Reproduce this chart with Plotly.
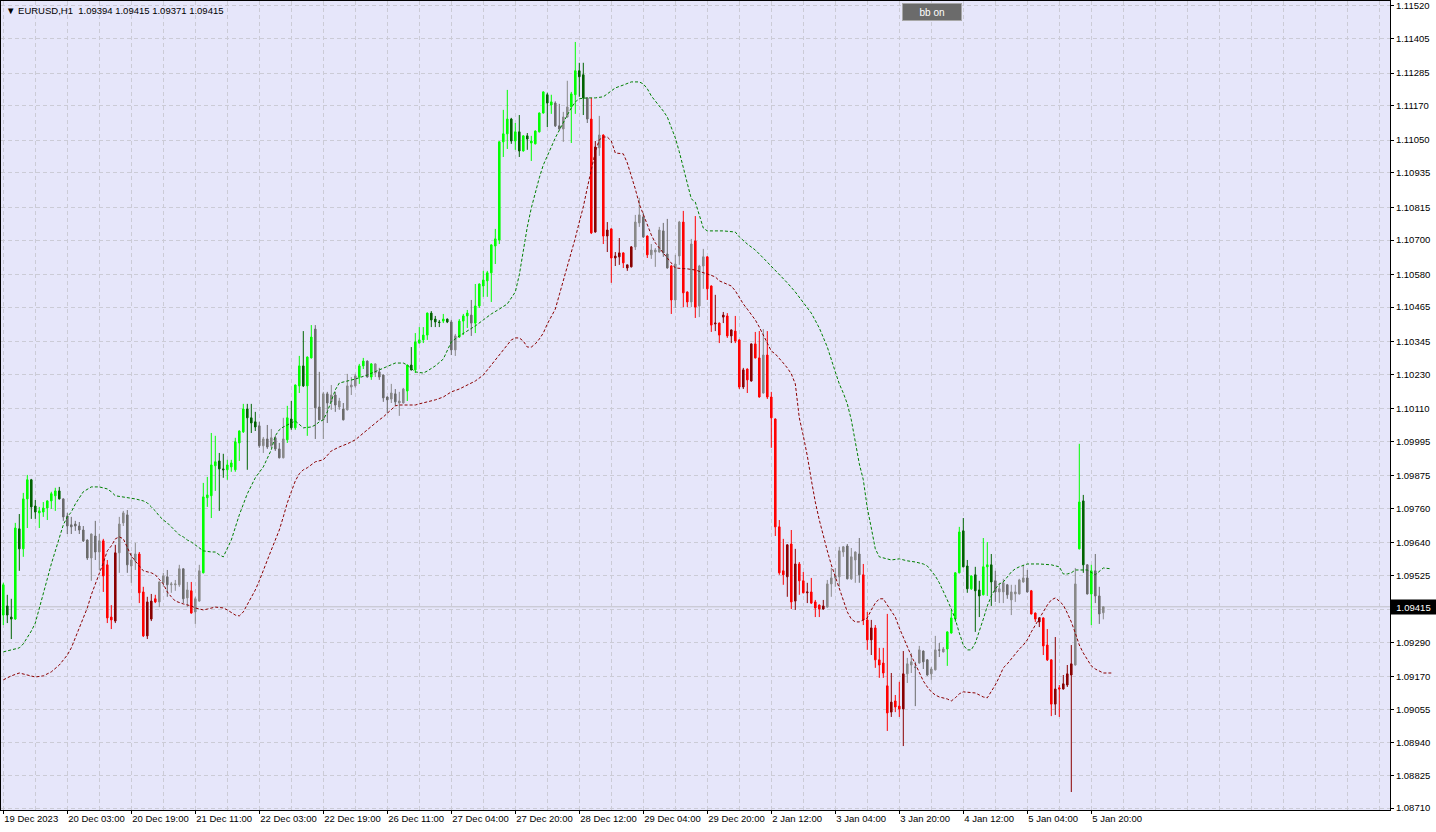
import plotly.graph_objects as go

# ---------------- data (EURUSD H1) ----------------
opens = [
    1.09386, 1.09418, 1.09379, 1.09372, 1.09688, 1.09618, 1.09793, 1.09860, 1.09768, 1.09744,
    1.09747, 1.09761, 1.09786, 1.09804, 1.09821, 1.09793, 1.09733, 1.09702, 1.09705, 1.09698,
    1.09684, 1.09649, 1.09586, 1.09663, 1.09607, 1.09646, 1.09562, 1.09379, 1.09365, 1.09604,
    1.09709, 1.09737, 1.09558, 1.09576, 1.09600, 1.09467, 1.09313, 1.09372, 1.09443, 1.09432,
    1.09499, 1.09520, 1.09492, 1.09492, 1.09492, 1.09548, 1.09446, 1.09471, 1.09397, 1.09435,
    1.09534, 1.09797, 1.09804, 1.09909, 1.09926, 1.09898, 1.09895, 1.09905, 1.09895, 1.09989,
    1.10028, 1.10108, 1.10077, 1.10063, 1.10049, 1.09979, 1.10003, 1.09979, 1.10007, 1.09968,
    1.09937, 1.10000, 1.10073, 1.10042, 1.10189, 1.10259, 1.10189, 1.10287, 1.10388, 1.10115,
    1.10070, 1.10161, 1.10133, 1.10157, 1.10115, 1.10108, 1.10105, 1.10185, 1.10189, 1.10220,
    1.10259, 1.10276, 1.10220, 1.10234, 1.10238, 1.10227, 1.10150, 1.10143, 1.10161, 1.10129,
    1.10129, 1.10171, 1.10262, 1.10245, 1.10339, 1.10350, 1.10367, 1.10444, 1.10423, 1.10413,
    1.10416, 1.10423, 1.10413, 1.10315, 1.10360, 1.10416, 1.10434, 1.10437, 1.10409, 1.10469,
    1.10539, 1.10557, 1.10585, 1.10679, 1.10700, 1.11044, 1.11072, 1.11124, 1.11047, 1.11079,
    1.11012, 1.11065, 1.11040, 1.11037, 1.11079, 1.11145, 1.11209, 1.11173, 1.11180, 1.11100,
    1.11089, 1.11131, 1.11166, 1.11209, 1.11293, 1.11279, 1.11198, 1.11124, 1.10728, 1.11023,
    1.11068, 1.10714, 1.10739, 1.10637, 1.10641, 1.10655, 1.10602, 1.10606, 1.10676, 1.10760,
    1.10781, 1.10714, 1.10648, 1.10658, 1.10658, 1.10732, 1.10651, 1.10609, 1.10490, 1.10644,
    1.10763, 1.10518, 1.10483, 1.10697, 1.10469, 1.10609, 1.10641, 1.10539, 1.10406, 1.10409,
    1.10430, 1.10434, 1.10364, 1.10381, 1.10350, 1.10185, 1.10248, 1.10206, 1.10336, 1.10287,
    1.10164, 1.10297, 1.10150, 1.10073, 1.09695, 1.09541, 1.09520, 1.09635, 1.09435, 1.09565,
    1.09506, 1.09464, 1.09467, 1.09432, 1.09421, 1.09407, 1.09414, 1.09495, 1.09516, 1.09520,
    1.09607, 1.09628, 1.09513, 1.09579, 1.09600, 1.09527, 1.09369, 1.09299, 1.09341, 1.09229,
    1.09218, 1.09138, 1.09046, 1.09085, 1.09067, 1.09057, 1.09180, 1.09211, 1.09204, 1.09218,
    1.09260, 1.09229, 1.09180, 1.09194, 1.09264, 1.09257, 1.09267, 1.09323, 1.09372, 1.09534,
    1.09681, 1.09558, 1.09478, 1.09527, 1.09474, 1.09457, 1.09555, 1.09562, 1.09506, 1.09467,
    1.09467, 1.09492, 1.09439, 1.09460, 1.09460, 1.09502, 1.09516, 1.09471, 1.09393, 1.09362,
    1.09376, 1.09281, 1.09229, 1.09074, 1.09131, 1.09127, 1.09141, 1.09176, 1.09211, 1.09618,
    1.09786, 1.09562, 1.09460, 1.09541, 1.09453, 1.09394,
]
highs = [
    1.09499, 1.09457, 1.09443, 1.09709, 1.09740, 1.09814, 1.09877, 1.09863, 1.09789, 1.09765,
    1.09782, 1.09788, 1.09818, 1.09832, 1.09835, 1.09795, 1.09744, 1.09730, 1.09716, 1.09712,
    1.09698, 1.09651, 1.09672, 1.09716, 1.09670, 1.09653, 1.09579, 1.09421, 1.09632, 1.09730,
    1.09751, 1.09754, 1.09604, 1.09639, 1.09607, 1.09485, 1.09450, 1.09460, 1.09457, 1.09504,
    1.09534, 1.09544, 1.09502, 1.09509, 1.09562, 1.09550, 1.09502, 1.09502, 1.09450, 1.09562,
    1.09849, 1.09870, 1.10024, 1.10014, 1.09954, 1.09951, 1.09930, 1.09930, 1.10007, 1.10033,
    1.10126, 1.10126, 1.10126, 1.10098, 1.10063, 1.10010, 1.10052, 1.10038, 1.10014, 1.09989,
    1.10077, 1.10119, 1.10136, 1.10194, 1.10294, 1.10381, 1.10292, 1.10402, 1.10402, 1.10238,
    1.10168, 1.10168, 1.10192, 1.10168, 1.10147, 1.10129, 1.10231, 1.10220, 1.10231, 1.10266,
    1.10287, 1.10278, 1.10269, 1.10268, 1.10252, 1.10229, 1.10152, 1.10196, 1.10178, 1.10168,
    1.10182, 1.10263, 1.10325, 1.10374, 1.10395, 1.10395, 1.10446, 1.10451, 1.10434, 1.10420,
    1.10441, 1.10425, 1.10420, 1.10371, 1.10423, 1.10441, 1.10455, 1.10490, 1.10546, 1.10548,
    1.10592, 1.10592, 1.10685, 1.10739, 1.11046, 1.11156, 1.11226, 1.11128, 1.11110, 1.11138,
    1.11067, 1.11075, 1.11065, 1.11084, 1.11147, 1.11221, 1.11216, 1.11209, 1.11186, 1.11177,
    1.11149, 1.11258, 1.11219, 1.11394, 1.11321, 1.11321, 1.11200, 1.11198, 1.11047, 1.11135,
    1.11070, 1.10763, 1.10741, 1.10658, 1.10707, 1.10657, 1.10613, 1.10679, 1.10788, 1.10848,
    1.10795, 1.10716, 1.10686, 1.10672, 1.10746, 1.10760, 1.10774, 1.10613, 1.10648, 1.10767,
    1.10802, 1.10520, 1.10704, 1.10784, 1.10613, 1.10669, 1.10643, 1.10541, 1.10508, 1.10411,
    1.10448, 1.10444, 1.10387, 1.10434, 1.10352, 1.10252, 1.10250, 1.10338, 1.10378, 1.10381,
    1.10388, 1.10381, 1.10168, 1.10075, 1.09719, 1.09653, 1.09634, 1.09684, 1.09618, 1.09572,
    1.09537, 1.09499, 1.09516, 1.09439, 1.09423, 1.09439, 1.09509, 1.09551, 1.09551, 1.09625,
    1.09628, 1.09635, 1.09621, 1.09609, 1.09656, 1.09565, 1.09397, 1.09369, 1.09351, 1.09271,
    1.09271, 1.09390, 1.09183, 1.09106, 1.09152, 1.09260, 1.09236, 1.09253, 1.09222, 1.09278,
    1.09262, 1.09232, 1.09204, 1.09313, 1.09288, 1.09274, 1.09329, 1.09404, 1.09536, 1.09695,
    1.09726, 1.09579, 1.09525, 1.09555, 1.09506, 1.09656, 1.09642, 1.09600, 1.09541, 1.09499,
    1.09513, 1.09495, 1.09492, 1.09492, 1.09513, 1.09562, 1.09544, 1.09474, 1.09395, 1.09379,
    1.09378, 1.09337, 1.09231, 1.09309, 1.09141, 1.09176, 1.09211, 1.09281, 1.09551, 1.09986,
    1.09807, 1.09564, 1.09562, 1.09600, 1.09485, 1.09415,
]
lows = [
    1.09351, 1.09358, 1.09302, 1.09369, 1.09541, 1.09590, 1.09691, 1.09723, 1.09723, 1.09691,
    1.09730, 1.09719, 1.09758, 1.09751, 1.09791, 1.09716, 1.09670, 1.09670, 1.09681, 1.09670,
    1.09642, 1.09579, 1.09506, 1.09579, 1.09544, 1.09467, 1.09358, 1.09337, 1.09358, 1.09534,
    1.09698, 1.09534, 1.09499, 1.09544, 1.09428, 1.09309, 1.09302, 1.09365, 1.09428, 1.09414,
    1.09485, 1.09450, 1.09464, 1.09471, 1.09485, 1.09428, 1.09414, 1.09391, 1.09355, 1.09433,
    1.09532, 1.09765, 1.09726, 1.09821, 1.09751, 1.09867, 1.09860, 1.09888, 1.09888, 1.09926,
    1.10024, 1.09895, 1.10024, 1.10031, 1.09972, 1.09954, 1.09968, 1.09972, 1.09961, 1.09935,
    1.09935, 1.09989, 1.10035, 1.10035, 1.10164, 1.10185, 1.10014, 1.10285, 1.10003, 1.10068,
    1.10003, 1.10059, 1.10105, 1.10098, 1.10105, 1.10068, 1.10103, 1.10157, 1.10183, 1.10196,
    1.10248, 1.10218, 1.10210, 1.10220, 1.10210, 1.10133, 1.10094, 1.10129, 1.10119, 1.10084,
    1.10127, 1.10136, 1.10243, 1.10234, 1.10337, 1.10339, 1.10350, 1.10395, 1.10395, 1.10395,
    1.10409, 1.10409, 1.10297, 1.10294, 1.10357, 1.10367, 1.10392, 1.10364, 1.10374, 1.10462,
    1.10501, 1.10501, 1.10483, 1.10616, 1.10686, 1.10991, 1.11019, 1.11037, 1.11016, 1.10991,
    1.11010, 1.11016, 1.10977, 1.11035, 1.11077, 1.11143, 1.11096, 1.11142, 1.11096, 1.11086,
    1.11044, 1.11129, 1.11040, 1.11142, 1.11202, 1.11138, 1.11110, 1.10721, 1.10726, 1.10995,
    1.10686, 1.10658, 1.10550, 1.10609, 1.10613, 1.10602, 1.10592, 1.10604, 1.10665, 1.10746,
    1.10707, 1.10637, 1.10634, 1.10606, 1.10656, 1.10641, 1.10600, 1.10441, 1.10462, 1.10613,
    1.10465, 1.10465, 1.10465, 1.10427, 1.10430, 1.10529, 1.10490, 1.10378, 1.10381, 1.10339,
    1.10409, 1.10357, 1.10339, 1.10339, 1.10178, 1.10178, 1.10164, 1.10204, 1.10285, 1.10148,
    1.10162, 1.10143, 1.09972, 1.09663, 1.09527, 1.09492, 1.09450, 1.09407, 1.09404, 1.09457,
    1.09462, 1.09428, 1.09425, 1.09379, 1.09379, 1.09405, 1.09412, 1.09450, 1.09485, 1.09485,
    1.09590, 1.09511, 1.09509, 1.09499, 1.09499, 1.09351, 1.09264, 1.09246, 1.09201, 1.09166,
    1.09166, 1.08980, 1.09029, 1.09046, 1.09029, 1.08927, 1.09148, 1.09183, 1.09067, 1.09216,
    1.09197, 1.09173, 1.09159, 1.09192, 1.09239, 1.09255, 1.09208, 1.09321, 1.09362, 1.09532,
    1.09553, 1.09464, 1.09474, 1.09327, 1.09379, 1.09455, 1.09453, 1.09418, 1.09432, 1.09428,
    1.09428, 1.09443, 1.09386, 1.09432, 1.09458, 1.09499, 1.09465, 1.09388, 1.09362, 1.09344,
    1.09246, 1.09225, 1.09032, 1.09036, 1.09029, 1.09125, 1.09134, 1.08766, 1.09209, 1.09616,
    1.09534, 1.09458, 1.09351, 1.09428, 1.09355, 1.09371,
]
closes = [
    1.09492, 1.09386, 1.09372, 1.09691, 1.09618, 1.09793, 1.09860, 1.09765, 1.09747, 1.09751,
    1.09761, 1.09786, 1.09811, 1.09821, 1.09793, 1.09730, 1.09698, 1.09695, 1.09698, 1.09684,
    1.09646, 1.09586, 1.09670, 1.09607, 1.09646, 1.09523, 1.09376, 1.09369, 1.09604, 1.09705,
    1.09744, 1.09562, 1.09579, 1.09600, 1.09464, 1.09313, 1.09432, 1.09435, 1.09432, 1.09502,
    1.09523, 1.09492, 1.09495, 1.09495, 1.09548, 1.09443, 1.09474, 1.09393, 1.09443, 1.09541,
    1.09800, 1.09807, 1.09912, 1.09923, 1.09898, 1.09895, 1.09912, 1.09919, 1.09993, 1.10031,
    1.10108, 1.10077, 1.10059, 1.10045, 1.09979, 1.10003, 1.09975, 1.10007, 1.09968, 1.09937,
    1.10003, 1.10077, 1.10042, 1.10192, 1.10259, 1.10189, 1.10290, 1.10360, 1.10112, 1.10070,
    1.10161, 1.10129, 1.10157, 1.10122, 1.10136, 1.10070, 1.10189, 1.10192, 1.10224, 1.10259,
    1.10276, 1.10220, 1.10266, 1.10266, 1.10220, 1.10147, 1.10140, 1.10164, 1.10133, 1.10136,
    1.10178, 1.10262, 1.10245, 1.10343, 1.10350, 1.10367, 1.10444, 1.10420, 1.10413, 1.10411,
    1.10423, 1.10413, 1.10315, 1.10364, 1.10416, 1.10434, 1.10444, 1.10409, 1.10469, 1.10546,
    1.10560, 1.10585, 1.10683, 1.10704, 1.11044, 1.11072, 1.11124, 1.11047, 1.11079, 1.11012,
    1.11065, 1.11054, 1.11047, 1.11082, 1.11145, 1.11219, 1.11180, 1.11184, 1.11100, 1.11089,
    1.11131, 1.11166, 1.11212, 1.11293, 1.11272, 1.11198, 1.11124, 1.10725, 1.11026, 1.11068,
    1.10714, 1.10735, 1.10637, 1.10644, 1.10655, 1.10620, 1.10613, 1.10676, 1.10763, 1.10788,
    1.10711, 1.10648, 1.10665, 1.10665, 1.10735, 1.10655, 1.10602, 1.10490, 1.10616, 1.10763,
    1.10515, 1.10483, 1.10686, 1.10465, 1.10609, 1.10641, 1.10529, 1.10402, 1.10409, 1.10367,
    1.10437, 1.10364, 1.10385, 1.10346, 1.10185, 1.10245, 1.10210, 1.10336, 1.10287, 1.10150,
    1.10297, 1.10150, 1.10077, 1.09695, 1.09534, 1.09527, 1.09632, 1.09432, 1.09565, 1.09506,
    1.09464, 1.09467, 1.09428, 1.09411, 1.09407, 1.09418, 1.09495, 1.09516, 1.09523, 1.09611,
    1.09625, 1.09513, 1.09590, 1.09607, 1.09527, 1.09369, 1.09299, 1.09341, 1.09229, 1.09211,
    1.09183, 1.09043, 1.09081, 1.09064, 1.09057, 1.09180, 1.09215, 1.09222, 1.09203, 1.09264,
    1.09222, 1.09176, 1.09197, 1.09264, 1.09263, 1.09267, 1.09327, 1.09376, 1.09534, 1.09677,
    1.09555, 1.09478, 1.09523, 1.09471, 1.09453, 1.09555, 1.09562, 1.09502, 1.09467, 1.09478,
    1.09499, 1.09457, 1.09467, 1.09467, 1.09509, 1.09516, 1.09467, 1.09390, 1.09372, 1.09376,
    1.09278, 1.09229, 1.09074, 1.09127, 1.09127, 1.09145, 1.09180, 1.09215, 1.09495, 1.09782,
    1.09562, 1.09460, 1.09541, 1.09453, 1.09390, 1.09415,
]
# candle colouring state: U = up trend, D = down trend, F = flat
trend = list(
    "UUUUUUUUUUUUUUU"        # 0-14
    "FFFFFFFFFF"             # 15-24
    "DDDD"                   # 25-28
    "FFFFF"                  # 29-33
    "DDDDD"                  # 34-38
    "FFFFFFFF"               # 39-46
    "D"                      # 47
    "FF"                     # 48-49
    "UUUUUUUUUUUUUU"         # 50-63
    "FFFFFFF"                # 64-70
    "UUUUUUU"                # 71-77
    "FFFFFFFFFFF"            # 78-88
    "UU" "F" "U"             # 89-92
    "FFFFFFFF"               # 93-100
    "UUUUUUUUUUU"            # 101-111
    "FF" "UUU" "F"           # 112-117
    "UUUUUUUUUUUUUUUUUUUU"   # 118-137
    "FFFF" "UUUU" "F"        # 138-146
    "DD" "F" "DDDDDDDD"      # 147-157
    "FFF" "D" "FFFFF" "D"    # 158-167
    "FF" "DD" "F" "D" "FF"   # 168-175
    "DDDDDDDDDDDDDD"         # 176-189
    "F"                      # 190
    "DDDDDDDDDDDDDDD"        # 191-205
    "FFFFFFFFF"              # 206-214
    "DDDDDDDDDDD"            # 215-225
    "FFFFFFFFFF"             # 226-235
    "UUUUUUUUUUUU"           # 236-247
    "FFFFFFFFF"              # 248-256
    "DDDDDDDDDDD"            # 257-267
    "F" "UU" "F" "U" "FFF"   # 268-275
)

time_labels = ["19 Dec 2023", "20 Dec 03:00", "20 Dec 19:00", "21 Dec 11:00",
               "22 Dec 03:00", "22 Dec 19:00", "26 Dec 11:00", "27 Dec 04:00",
               "27 Dec 20:00", "28 Dec 12:00", "29 Dec 04:00", "29 Dec 20:00",
               "2 Jan 12:00", "3 Jan 04:00", "3 Jan 20:00", "4 Jan 12:00",
               "5 Jan 04:00", "5 Jan 20:00"]
price_labels = ["1.11520", "1.11405", "1.11285", "1.11170", "1.11050", "1.10935",
                "1.10815", "1.10700", "1.10580", "1.10465", "1.10345", "1.10230",
                "1.10110", "1.09995", "1.09875", "1.09760", "1.09640", "1.09525",
                "1.09405", "1.09290", "1.09170", "1.09055", "1.08940", "1.08825",
                "1.08710"]

upper_band = [
    (0, 1.09257), (2, 1.09264), (4, 1.09271), (5, 1.09285), (6, 1.09306), (7, 1.09330),
    (8, 1.09358), (9, 1.09407), (10, 1.09464), (11, 1.09513), (12, 1.09565), (13, 1.09611),
    (14, 1.09649), (15, 1.09702), (16, 1.09730), (17, 1.09747), (18, 1.09775), (19, 1.09797),
    (20, 1.09818), (22, 1.09835), (24, 1.09835), (26, 1.09828), (27, 1.09818), (28, 1.09804),
    (30, 1.09800), (32, 1.09797), (33, 1.09793), (35, 1.09786), (36, 1.09779), (37, 1.09765),
    (38, 1.09751), (39, 1.09733), (40, 1.09719), (41, 1.09709), (42, 1.09695), (43, 1.09684),
    (44, 1.09667), (45, 1.09660), (46, 1.09649), (47, 1.09642), (48, 1.09632), (49, 1.09621),
    (50, 1.09611), (52, 1.09607), (53, 1.09607), (54, 1.09597), (55, 1.09590), (57, 1.09649),
    (59, 1.09737), (61, 1.09811), (63, 1.09867), (65, 1.09905), (66, 1.09937), (67, 1.09965),
    (68, 1.10014), (69, 1.10035), (70, 1.10045), (72, 1.10059), (73, 1.10066), (75, 1.10042),
    (77, 1.10045), (78, 1.10052), (79, 1.10063), (80, 1.10070), (81, 1.10098), (82, 1.10136),
    (83, 1.10175), (84, 1.10199), (86, 1.10206), (88, 1.10213), (91, 1.10227), (94, 1.10245),
    (96, 1.10259), (98, 1.10269), (100, 1.10269), (101, 1.10262), (103, 1.10238), (105, 1.10234),
    (106, 1.10241), (108, 1.10259), (110, 1.10283), (111, 1.10315), (112, 1.10343), (114, 1.10364),
    (116, 1.10381), (118, 1.10399), (120, 1.10420), (122, 1.10441), (124, 1.10458), (126, 1.10476),
    (127, 1.10497), (128, 1.10518), (129, 1.10578), (130, 1.10665), (131, 1.10746), (132, 1.10812),
    (133, 1.10869), (134, 1.10918), (135, 1.10963), (136, 1.10998), (137, 1.11026), (138, 1.11058),
    (139, 1.11086), (140, 1.11114), (141, 1.11138), (142, 1.11163), (143, 1.11184), (144, 1.11195),
    (146, 1.11198), (148, 1.11198), (150, 1.11202), (151, 1.11212), (153, 1.11233), (155, 1.11243),
    (157, 1.11254), (159, 1.11254), (160, 1.11247), (161, 1.11230), (162, 1.11205), (163, 1.11187),
    (164, 1.11170), (165, 1.11152), (166, 1.11131), (167, 1.11093), (168, 1.11058), (169, 1.11009),
    (170, 1.10953), (171, 1.10900), (172, 1.10844), (173, 1.10833), (174, 1.10788), (175, 1.10742),
    (176, 1.10732), (180, 1.10732), (183, 1.10728), (184, 1.10711), (186, 1.10686), (188, 1.10665),
    (190, 1.10637), (192, 1.10609), (194, 1.10581), (196, 1.10550), (198, 1.10518), (200, 1.10483),
    (202, 1.10444), (204, 1.10392), (206, 1.10325), (208, 1.10238), (209, 1.10196), (210, 1.10164),
    (211, 1.10126), (212, 1.10070), (213, 1.09989), (214, 1.09916), (215, 1.09860), (216, 1.09761),
    (217, 1.09691), (218, 1.09618), (219, 1.09590), (220, 1.09586), (222, 1.09579), (224, 1.09583),
    (226, 1.09576), (228, 1.09572), (230, 1.09565), (231, 1.09558), (232, 1.09541), (233, 1.09523),
    (234, 1.09499), (235, 1.09471), (236, 1.09439), (237, 1.09407), (238, 1.09372), (239, 1.09323),
    (240, 1.09281), (241, 1.09264), (242, 1.09264), (243, 1.09288), (244, 1.09327), (245, 1.09372),
    (246, 1.09418), (247, 1.09453), (248, 1.09478), (249, 1.09495), (250, 1.09502), (251, 1.09520),
    (252, 1.09537), (253, 1.09548), (254, 1.09555), (256, 1.09565), (259, 1.09565), (262, 1.09562),
    (264, 1.09555), (265, 1.09530), (266, 1.09530), (267, 1.09534), (268, 1.09544), (271, 1.09544),
    (273, 1.09527), (275, 1.09551), (277, 1.09548),
]
lower_band = [
    (0, 1.09159), (2, 1.09173), (4, 1.09183), (6, 1.09176), (8, 1.09169), (10, 1.09173),
    (12, 1.09187), (14, 1.09211), (16, 1.09246), (17, 1.09271), (18, 1.09306), (19, 1.09341),
    (20, 1.09379), (21, 1.09411), (22, 1.09457), (23, 1.09495), (24, 1.09527), (25, 1.09569),
    (26, 1.09611), (27, 1.09628), (28, 1.09653), (29, 1.09660), (30, 1.09653), (31, 1.09621),
    (32, 1.09593), (34, 1.09558), (35, 1.09541), (37, 1.09534), (38, 1.09527), (40, 1.09495),
    (41, 1.09467), (42, 1.09450), (43, 1.09435), (45, 1.09425), (47, 1.09418), (48, 1.09411),
    (50, 1.09404), (51, 1.09407), (53, 1.09414), (55, 1.09411), (56, 1.09404), (58, 1.09386),
    (59, 1.09383), (60, 1.09397), (61, 1.09421), (62, 1.09446), (63, 1.09474), (64, 1.09506),
    (65, 1.09544), (66, 1.09579), (67, 1.09614), (68, 1.09649), (69, 1.09684), (70, 1.09730),
    (71, 1.09779), (72, 1.09818), (73, 1.09856), (74, 1.09881), (75, 1.09895), (76, 1.09902),
    (77, 1.09912), (78, 1.09923), (80, 1.09930), (81, 1.09947), (82, 1.09961), (84, 1.09975),
    (86, 1.09986), (88, 1.10000), (90, 1.10024), (92, 1.10045), (94, 1.10070), (95, 1.10080),
    (96, 1.10094), (97, 1.10108), (98, 1.10119), (99, 1.10122), (101, 1.10122), (103, 1.10122),
    (104, 1.10126), (106, 1.10133), (108, 1.10140), (110, 1.10150), (112, 1.10168), (114, 1.10178),
    (116, 1.10192), (118, 1.10206), (120, 1.10227), (122, 1.10262), (124, 1.10301), (126, 1.10336),
    (127, 1.10350), (128, 1.10357), (129, 1.10357), (130, 1.10346), (131, 1.10325), (132, 1.10325),
    (133, 1.10336), (134, 1.10353), (135, 1.10374), (136, 1.10406), (137, 1.10430), (138, 1.10458),
    (139, 1.10508), (140, 1.10557), (141, 1.10606), (142, 1.10655), (143, 1.10707), (144, 1.10763),
    (145, 1.10816), (146, 1.10883), (147, 1.10946), (148, 1.11009), (149, 1.11051), (150, 1.11061),
    (151, 1.11061), (152, 1.11047), (153, 1.11005), (155, 1.11002), (156, 1.10970), (157, 1.10928),
    (158, 1.10879), (159, 1.10826), (160, 1.10788), (161, 1.10753), (162, 1.10718), (163, 1.10690),
    (164, 1.10672), (165, 1.10655), (166, 1.10634), (168, 1.10602), (171, 1.10599), (173, 1.10595),
    (176, 1.10581), (178, 1.10571), (179, 1.10557), (181, 1.10546), (182, 1.10539), (183, 1.10522),
    (184, 1.10497), (185, 1.10476), (186, 1.10458), (187, 1.10441), (188, 1.10420), (189, 1.10395),
    (190, 1.10367), (191, 1.10336), (192, 1.10311), (193, 1.10301), (194, 1.10283), (195, 1.10269),
    (196, 1.10252), (197, 1.10231), (198, 1.10196), (199, 1.10077), (200, 1.10014), (201, 1.09944),
    (202, 1.09860), (203, 1.09782), (204, 1.09719), (205, 1.09663), (206, 1.09611), (207, 1.09562),
    (208, 1.09520), (209, 1.09481), (210, 1.09435), (211, 1.09397), (212, 1.09372), (213, 1.09362),
    (214, 1.09362), (215, 1.09369), (216, 1.09376), (217, 1.09404), (218, 1.09428), (219, 1.09443),
    (220, 1.09443), (221, 1.09421), (222, 1.09400), (223, 1.09379), (224, 1.09341), (225, 1.09309),
    (226, 1.09271), (227, 1.09243), (228, 1.09215), (229, 1.09187), (230, 1.09155), (231, 1.09134),
    (232, 1.09117), (233, 1.09106), (234, 1.09099), (236, 1.09092), (237, 1.09085), (238, 1.09096),
    (239, 1.09110), (240, 1.09117), (242, 1.09113), (243, 1.09113), (244, 1.09106), (245, 1.09099),
    (246, 1.09096), (247, 1.09117), (248, 1.09141), (249, 1.09169), (250, 1.09201), (251, 1.09215),
    (252, 1.09232), (253, 1.09253), (254, 1.09267), (255, 1.09281), (256, 1.09299), (257, 1.09327),
    (258, 1.09351), (259, 1.09376), (260, 1.09400), (261, 1.09421), (262, 1.09439), (263, 1.09446),
    (264, 1.09435), (265, 1.09421), (266, 1.09393), (267, 1.09362), (268, 1.09323), (269, 1.09281),
    (270, 1.09253), (271, 1.09229), (272, 1.09208), (273, 1.09197), (274, 1.09190), (275, 1.09183),
    (277, 1.09183),
]

# ---------------- figure ----------------
n = len(closes)
assert len(opens) == n and len(highs) == n and len(lows) == n and len(trend) == n, (
    len(opens), len(highs), len(lows), len(closes), len(trend))
bars = list(range(n))

FONT = "Liberation Sans, Arial, sans-serif"
COLORS = {
    ("U", True): "#00ff00", ("U", False): "#006400",
    ("D", False): "#ff0000", ("D", True): "#8b0000",
    ("F", True): "#8a8a8a", ("F", False): "#6b6b6b",
}

groups = {}
for i in bars:
    groups.setdefault((trend[i], closes[i] >= opens[i]), []).append(i)

fig = go.Figure()
for key, idx in groups.items():
    c = COLORS[key]
    fig.add_trace(go.Candlestick(
        x=[bars[i] for i in idx],
        open=[opens[i] for i in idx], high=[highs[i] for i in idx],
        low=[lows[i] for i in idx], close=[closes[i] for i in idx],
        increasing=dict(line=dict(color=c, width=1), fillcolor=c),
        decreasing=dict(line=dict(color=c, width=1), fillcolor=c),
        whiskerwidth=0, hoverinfo="skip", showlegend=False,
    ))

fig.add_trace(go.Scatter(
    x=[b for b, _ in upper_band], y=[v for _, v in upper_band], mode="lines",
    line=dict(color="#008000", width=1, dash="3px,2px"), hoverinfo="skip", showlegend=False))
fig.add_trace(go.Scatter(
    x=[b for b, _ in lower_band], y=[v for _, v in lower_band], mode="lines",
    line=dict(color="#8b0000", width=1, dash="3px,2px"), hoverinfo="skip", showlegend=False))

last = closes[-1]
fig.add_shape(type="line", xref="paper", x0=0, x1=1, yref="y", y0=last, y1=last,
              line=dict(color="#c0c0c8", width=1), layer="below")

grid = dict(showgrid=True, gridcolor="#cbcbd6", gridwidth=1, griddash="4px,3px")
fig.update_layout(
    width=1436, height=832,
    margin=dict(l=1, r=46, t=1, b=22, pad=0, autoexpand=False),
    paper_bgcolor="white", plot_bgcolor="#e6e6fa",
    boxgap=0.45, showlegend=False,
    font=dict(family=FONT, size=10, color="black"),
    xaxis=dict(
        range=[-0.575, 346.675], rangeslider=dict(visible=False), automargin=False,
        tickmode="array", tickvals=[16 * k for k in range(len(time_labels))], ticktext=time_labels,
        ticks="outside", ticklen=3, tickcolor="black", tickangle=0,
        ticklabelposition="outside right",
        tickfont=dict(family=FONT, size=9.5, color="black"),
        showline=True, linecolor="black", linewidth=1, mirror=True, zeroline=False,
        minor=dict(tickmode="linear", tick0=0, dtick=8, ticklen=0, **grid),
        **grid,
    ),
    yaxis=dict(
        side="right", range=[1.08703, 1.115375], automargin=False,
        tickmode="array", tickvals=[float(s) for s in price_labels], ticktext=price_labels,
        ticks="outside", ticklen=3, tickcolor="black",
        tickfont=dict(family=FONT, size=9.5, color="black"),
        showline=True, linecolor="black", linewidth=1, mirror=True, zeroline=False,
        **grid,
    ),
)

title = ("\u25bc EURUSD,H1\u00a0\u00a0" +
         " ".join(f"{v:.5f}" for v in (opens[-1], highs[-1], lows[-1], closes[-1])))
fig.add_annotation(text=title, xref="paper", yref="paper", x=0, y=1, xanchor="left",
                   yanchor="top", xshift=3, yshift=-2, showarrow=False,
                   font=dict(family=FONT, size=9.5, color="black"))
fig.add_annotation(text="bb on", xref="paper", yref="paper", x=0.6703, y=0.9864,
                   xanchor="center", yanchor="middle", showarrow=False,
                   width=56, height=14, bgcolor="#6b6b6b", bordercolor="#a8a8a8",
                   borderwidth=1, borderpad=1,
                   font=dict(family=FONT, size=10, color="white"))
fig.add_annotation(text=f"{last:.5f}", xref="paper", yref="y", x=1, y=last,
                   xanchor="left", yanchor="middle", showarrow=False,
                   width=41, height=10, bgcolor="black", borderpad=2,
                   font=dict(family=FONT, size=9.5, color="white"))

fig.write_html("out.html",
               config={"displayModeBar": False},
               post_script="document.body.style.margin='0px';"
                           "document.body.style.overflow='hidden';")
